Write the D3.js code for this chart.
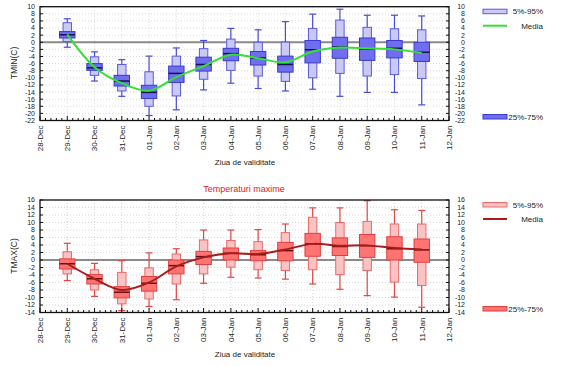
<!DOCTYPE html>
<html><head><meta charset="utf-8">
<script src="https://cdn.jsdelivr.net/npm/d3@7"></script>
<style>
html,body{margin:0;padding:0;background:#fff;}
svg{display:block;font-family:"Liberation Sans",Arial,sans-serif;}
</style></head>
<body>
<svg id="c" width="572" height="366"></svg>
<script>
// ---------- DATA ----------
const axisDates = ["28-Dec","29-Dec","30-Dec","31-Dec","01-Jan","02-Jan","03-Jan","04-Jan","05-Jan","06-Jan","07-Jan","08-Jan","09-Jan","10-Jan","11-Jan","12-Jan"];
const boxDates  = ["29-Dec","30-Dec","31-Dec","01-Jan","02-Jan","03-Jan","04-Jan","05-Jan","06-Jan","07-Jan","08-Jan","09-Jan","10-Jan","11-Jan"];

// TMIN
const tminMin  = [-1.4,-10.9,-15.2,-20.6,-19.0,-13.4,-11.5,-13.0,-13.7,-13.2,-15.2,-14.1,-14.1,-17.6];
const tminP5   = [ 0.2, -9.3,-13.7,-18.0,-15.1,-10.4, -7.9, -9.5,-11.0,-10.0, -8.75,-9.5, -9.1,-10.2];
const tminP25  = [ 1.2, -7.9,-12.3,-15.8,-11.3, -8.1, -5.2, -6.4, -8.4, -5.8, -4.5, -5.1, -4.4, -5.4];
const tminMed  = [ 2.1, -7.2,-10.9,-14.1, -8.75,-6.25,-3.2, -4.4, -6.25,-2.1, -1.3, -1.9, -1.7, -2.8];
const tminP75  = [ 3.0, -6.0, -9.3,-12.1, -6.7, -4.2, -1.7, -2.6, -3.9,  0.5,  1.4,  1.2,  0.5,  0.0];
const tminP95  = [ 5.5, -4.1, -6.25,-8.3, -3.9, -1.8,  0.9,  0.0,  0.05, 3.9,  6.25, 4.2,  3.8,  3.5];
const tminMax  = [ 6.6, -2.7, -4.9, -3.9, -1.6,  0.5,  3.9,  3.5,  5.8,  7.9,  9.3,  7.6,  7.6,  7.4];
const tminMean = [ 2.2, -7.0,-11.5,-13.6, -9.8, -6.7, -3.5, -4.5, -5.6, -2.6, -1.5, -1.7, -2.0, -3.0];
const tminTicks = d3.range(-22, 11, 2);

// TMAX
const tmaxMin  = [-5.5, -9.7,-13.5,-12.4,-10.6, -6.2, -4.6, -4.8, -5.1, -6.4, -7.8, -9.5, -9.9,-12.6];
const tmaxP5   = [-3.7, -8.0,-11.7,-10.4, -6.4, -3.7, -1.9, -2.6, -2.8, -2.6, -3.9, -2.8, -5.9, -6.8];
const tmaxP25  = [-2.4, -6.4,-10.1, -8.3, -3.7, -1.2,  0.0, -0.2, -0.2,  1.0,  1.2,  0.7,  0.0, -0.6];
const tmaxMed  = [-1.0, -5.0, -8.6, -6.2, -1.5,  0.9,  1.8,  1.4,  2.5,  4.3,  3.6,  3.8,  3.0,  2.7];
const tmaxP75  = [ 0.3, -3.9, -7.1, -4.4,  0.0,  2.3,  3.2,  2.5,  4.7,  7.1,  5.9,  6.8,  6.2,  5.6];
const tmaxP95  = [ 2.2, -2.6, -3.3, -2.1,  1.6,  5.35, 5.2,  4.9,  7.3, 11.4, 10.0, 10.3,  9.6,  9.6];
const tmaxMax  = [ 4.45,-0.9, -0.2,  1.9,  3.0,  8.0,  8.0,  8.1,  9.6, 13.9, 13.9, 15.8, 13.4, 13.2];
const tmaxMean = [-1.0, -5.0, -8.0, -6.0, -1.7,  0.7,  1.8,  1.6,  2.8,  4.3,  3.8,  3.9,  3.2,  2.8];
const tmaxTicks = d3.range(-14, 17, 2);

const legendLabels = ["5%-95%","Media","25%-75%"];
const yTitles = ["TMIN(C)","TMAX(C)"];
const xTitle = "Ziua de validitate";
const title2 = "Temperaturi maxime";

// ---------- DRAW ----------
const svg = d3.select("#c");

function panel(cfg) {
  const g = svg.append("g");
  const x = d3.scaleLinear().domain([0, axisDates.length - 1]).range([40, 449]);
  const y = d3.scaleLinear().domain([cfg.ticks[0], cfg.ticks[cfg.ticks.length-1]]).range([cfg.bottom, cfg.top]);
  const L = 40, R = 449;

  // grid
  g.append("g").selectAll("line").data(cfg.ticks).join("line")
    .attr("x1", L).attr("x2", R).attr("y1", d => y(d)).attr("y2", d => y(d))
    .attr("stroke", "#c8c8c8").attr("stroke-width", 0.7).attr("stroke-dasharray", "1,2");
  g.append("g").selectAll("line").data(axisDates.slice(1, -1)).join("line")
    .attr("x1", (d,i) => x(i+1)).attr("x2", (d,i) => x(i+1)).attr("y1", cfg.top).attr("y2", cfg.bottom)
    .attr("stroke", "#c8c8c8").attr("stroke-width", 0.7).attr("stroke-dasharray", "1,2");

  // zero line
  g.append("line").attr("x1", L).attr("x2", R).attr("y1", y(0)).attr("y2", y(0))
    .attr("stroke", "#8a8a8a").attr("stroke-width", 2.2);

  const idx = d => axisDates.indexOf(d);
  const boxes = g.append("g").selectAll("g").data(boxDates).join("g");
  boxes.append("line").attr("x1", d => x(idx(d))).attr("x2", d => x(idx(d)))
    .attr("y1", (d,i) => y(cfg.max[i])).attr("y2", (d,i) => y(cfg.min[i]))
    .attr("stroke", cfg.whisk).attr("stroke-width", 1.2);
  [cfg.max, cfg.min].forEach(arr => {
    boxes.append("line").attr("x1", d => x(idx(d)) - 3.5).attr("x2", d => x(idx(d)) + 3.5)
      .attr("y1", (d,i) => y(arr[i])).attr("y2", (d,i) => y(arr[i]))
      .attr("stroke", cfg.whisk).attr("stroke-width", 1.2);
  });
  boxes.append("rect").attr("x", d => x(idx(d)) - 4.2).attr("width", 8.4)
    .attr("y", (d,i) => y(cfg.p95[i])).attr("height", (d,i) => y(cfg.p5[i]) - y(cfg.p95[i]))
    .attr("fill", cfg.lightFill).attr("stroke", cfg.lightStroke).attr("stroke-width", 1);
  boxes.append("rect").attr("x", d => x(idx(d)) - 7.7).attr("width", 15.4)
    .attr("y", (d,i) => y(cfg.p75[i])).attr("height", (d,i) => y(cfg.p25[i]) - y(cfg.p75[i]))
    .attr("fill", cfg.darkFill).attr("stroke", cfg.darkStroke).attr("stroke-width", 1);
  boxes.append("line").attr("x1", d => x(idx(d)) - 7.7).attr("x2", d => x(idx(d)) + 7.7)
    .attr("y1", (d,i) => y(cfg.med[i])).attr("y2", (d,i) => y(cfg.med[i]))
    .attr("stroke", cfg.medColor).attr("stroke-width", 1.5);

  const line = d3.line().x((d,i) => x(idx(boxDates[i]))).y(d => y(d)).curve(d3.curveCatmullRom.alpha(0.5));
  g.append("path").attr("d", line(cfg.mean)).attr("fill", "none")
    .attr("stroke", cfg.meanColor).attr("stroke-width", 2);

  g.append("rect").attr("x", L).attr("y", cfg.top).attr("width", R - L).attr("height", cfg.bottom - cfg.top)
    .attr("fill", "none").attr("stroke", "#111").attr("stroke-width", 1.3);

  const minor = d3.range(0, (axisDates.length - 1) * 5 + 1).map(k => k / 5);
  g.append("g").selectAll("line").data(minor).join("line")
    .attr("x1", d => x(d)).attr("x2", d => x(d))
    .attr("y1", cfg.bottom).attr("y2", d => cfg.bottom - (Number.isInteger(d) ? 4.5 : 2.5))
    .attr("stroke", "#111").attr("stroke-width", 1);
  g.append("g").selectAll("line").data(cfg.ticks).join("line")
    .attr("x1", L).attr("x2", L + 3).attr("y1", d => y(d)).attr("y2", d => y(d)).attr("stroke", "#111");
  g.append("g").selectAll("line").data(cfg.ticks).join("line")
    .attr("x1", R - 3).attr("x2", R).attr("y1", d => y(d)).attr("y2", d => y(d)).attr("stroke", "#111");

  g.append("g").selectAll("text").data(cfg.ticks).join("text")
    .attr("x", 35).attr("y", d => y(d)).attr("dy", "0.35em").attr("text-anchor", "end")
    .attr("font-size", 7).attr("fill", "#222").text(d => d);
  g.append("g").selectAll("text").data(cfg.ticks).join("text")
    .attr("x", 465).attr("y", d => y(d)).attr("dy", "0.35em").attr("text-anchor", "end")
    .attr("font-size", 7).attr("fill", "#222").text(d => d);

  g.append("g").selectAll("text").data(axisDates).join("text")
    .attr("transform", (d,i) => `translate(${x(i)},${cfg.bottom + 5}) rotate(-90)`)
    .attr("dy", "0.35em").attr("text-anchor", "end")
    .attr("font-size", 8).attr("fill", "#222").text(d => d);

  g.append("text").attr("transform", `translate(14,${cfg.ytitleY}) rotate(-90)`)
    .attr("text-anchor", "middle").attr("dy", "0.35em").attr("font-size", 8.5).attr("fill", "#222").text(cfg.ytitle);
  g.append("text").attr("x", 245).attr("y", cfg.bottom + 42).attr("dy", "0.35em")
    .attr("text-anchor", "middle").attr("font-size", 8).attr("fill", "#222").text(xTitle);

  const lg = g.append("g");
  lg.append("rect").attr("x", 483).attr("y", cfg.top + 2.5).attr("width", 24).attr("height", 4.5)
    .attr("fill", cfg.lightFill).attr("stroke", cfg.lightStroke).attr("stroke-width", 1);
  lg.append("text").attr("x", 543).attr("y", cfg.top + 4.7).attr("dy", "0.35em").attr("text-anchor", "end")
    .attr("font-size", 8).attr("fill", "#222").text(legendLabels[0]);
  lg.append("line").attr("x1", 483).attr("x2", 507).attr("y1", cfg.top + 19).attr("y2", cfg.top + 19)
    .attr("stroke", cfg.meanColor).attr("stroke-width", 2);
  lg.append("text").attr("x", 543).attr("y", cfg.top + 19).attr("dy", "0.35em").attr("text-anchor", "end")
    .attr("font-size", 8).attr("fill", "#222").text(legendLabels[1]);
  lg.append("rect").attr("x", 483).attr("y", cfg.bottom - 6).attr("width", 24).attr("height", 4.5)
    .attr("fill", cfg.darkFill).attr("stroke", cfg.darkStroke).attr("stroke-width", 1);
  lg.append("text").attr("x", 543).attr("y", cfg.bottom - 3.8).attr("dy", "0.35em").attr("text-anchor", "end")
    .attr("font-size", 8).attr("fill", "#222").text(legendLabels[2]);
}

panel({
  top: 6.7, bottom: 120.5, ticks: tminTicks,
  min: tminMin, p5: tminP5, p25: tminP25, med: tminMed, p75: tminP75, p95: tminP95, max: tminMax, mean: tminMean,
  whisk: "#4a4ad8", lightFill: "#c9c9f4", lightStroke: "#5a5ae0", darkFill: "#6e6eee", darkStroke: "#3a3acc",
  medColor: "#141450", meanColor: "#33e033", ytitle: yTitles[0], ytitleY: 63
});
panel({
  top: 200, bottom: 312.5, ticks: tmaxTicks,
  min: tmaxMin, p5: tmaxP5, p25: tmaxP25, med: tmaxMed, p75: tmaxP75, p95: tmaxP95, max: tmaxMax, mean: tmaxMean,
  whisk: "#e04848", lightFill: "#f9c3c3", lightStroke: "#e86a6a", darkFill: "#ff7373", darkStroke: "#e04040",
  medColor: "#6a1010", meanColor: "#a81c1c", ytitle: yTitles[1], ytitleY: 256
});

svg.append("text").attr("x", 244).attr("y", 189).attr("dy", "0.35em").attr("text-anchor", "middle")
  .attr("font-size", 9).attr("fill", "#e02020").text(title2);
</script>
</body></html>
